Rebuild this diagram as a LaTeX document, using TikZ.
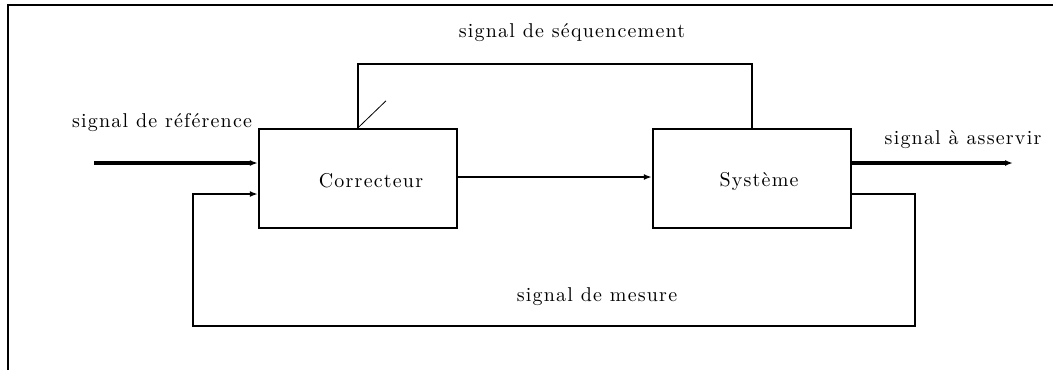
\documentclass[tikz,border=0pt]{standalone}
\usepackage{fontspec}
\newfontfamily\sigfont{lmroman10-regular}[Extension=.otf,LetterSpace=6]
\usetikzlibrary{arrows.meta}
\tikzset{
  bloc/.style={draw,line width=1.2pt,minimum width=99pt,minimum height=49.5pt,inner sep=0pt},
  sig/.style={font=\sigfont},
  gros/.style={line width=1.6pt},
}
\begin{document}
\begin{tikzpicture}[x=0.5pt,y=-0.5pt,line width=1pt,>={Latex[length=4pt,width=3pt]}]
  \useasboundingbox (0,0) rectangle (1053,370);
  \draw[line width=1.2pt] (8,370) -- (8,5) -- (1053,5);
  \node[bloc] (cor) at (358,178.5) {};
  \node[bloc] (sys) at (752,178.5) {};
  \node[sig] at (371,181) {Correcteur};
  \node[sig] at (759,181) {Système};
  \coordinate (in) at (94,163);
  \coordinate (out) at (1013,163);
  \coordinate (seq) at (555,64);
  \draw[gros,->] (in) -- (cor.west |- in);
  \draw[->] (cor.east |- 0,177) -- (sys.west |- 0,177);
  \draw[gros,->] (sys.east |- out) -- (out);
  \draw (cor.north) |- (seq) -| (sys.north);
  \draw[line width=.4pt] (cor.north) -- ++(28,-27);
  \draw[->] (sys.east |- 0,194) -| (915,326) -| (193,194) -- (cor.west |- 0,194);
  \node[sig] (ref) at (162,123) {signal de référence};
  \node[sig] (seqlab) at (572,33) {signal de séquencement};
  \node[sig] (outlab) at (963,140) {signal à asservir};
  \node[sig] (mes) at (597,297) {signal de mesure};
\end{tikzpicture}
\end{document}
